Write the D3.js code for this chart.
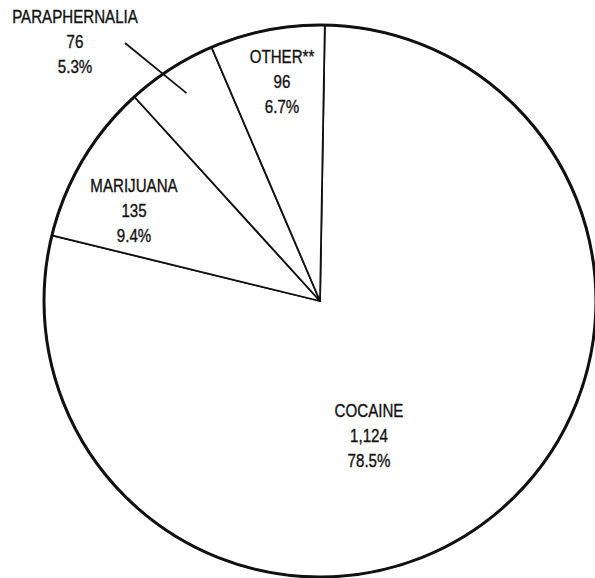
<!DOCTYPE html>
<html>
<head>
<meta charset="utf-8">
<script src="https://cdnjs.cloudflare.com/ajax/libs/d3/7.8.5/d3.min.js"></script>
<style>
  body { margin: 0; background: #fff; }
  text { font-family: "Liberation Sans", Arial, sans-serif; font-size: 18px; fill: #111; stroke: #111; stroke-width: 0.35px; }
</style>
</head>
<body>
<svg width="595" height="578"></svg>
<script>

let categories = ['COCAINE', 'MARIJUANA', 'PARAPHERNALIA', 'OTHER**'];
let counts = [1124, 135, 76, 96];
let countLabels = ['1,124', '135', '76', '96'];
let percentLabels = ['78.5%', '9.4%', '5.3%', '6.7%'];

let data = categories.map((c, i) => ({ name: c, value: counts[i], count: countLabels[i], pct: percentLabels[i] }));

let svg = d3.select('svg');
let cx = 320, cy = 301, radius = 276;

// where each label block sits, relative to the pie centre (first baseline)
let labelPos = {
    'COCAINE': [49, 116],
    'MARIJUANA': [-186, -109],
    'PARAPHERNALIA': [-245, -278],
    'OTHER**': [-38, -238]
};

let g = svg.append('g')
    .attr('transform', 'translate(' + cx + ',' + cy + ')');

let start = 1 * Math.PI / 180;
let pie = d3.pie()
    .sort(null)
    .value(d => d.value)
    .startAngle(start)
    .endAngle(start + 2 * Math.PI);

let arc = d3.arc().innerRadius(0).outerRadius(radius);
let arcs = pie(data);

g.selectAll('path.slice')
    .data(arcs)
    .enter().append('path')
    .attr('class', 'slice')
    .attr('d', arc)
    .style('fill', '#fff')
    .style('stroke', '#111')
    .style('stroke-width', 1.8)
    .style('stroke-linejoin', 'round');

g.append('circle')
    .attr('r', radius)
    .style('fill', 'none')
    .style('stroke', '#111')
    .style('stroke-width', 3);

// leader line for the thin paraphernalia slice
let leaderArc = d3.arc().innerRadius(247).outerRadius(247);
let para = arcs.find(a => a.data.name === 'PARAPHERNALIA');
let end = leaderArc.centroid(para);
g.append('line')
    .attr('x1', -195)
    .attr('y1', -258)
    .attr('x2', end[0])
    .attr('y2', end[1])
    .style('stroke', '#111')
    .style('stroke-width', 1.8);

// the original type is a condensed face: squeeze horizontally
let labels = g.selectAll('text.lbl')
    .data(arcs)
    .enter().append('text')
    .attr('class', 'lbl')
    .attr('text-anchor', 'middle')
    .attr('transform', d => 'translate(' + labelPos[d.data.name][0] + ',' + labelPos[d.data.name][1] + ')scale(0.84,1)');

labels.append('tspan').attr('x', 0).attr('y', 0).text(d => d.data.name);
labels.append('tspan').attr('x', 0).attr('y', 25.5).text(d => d.data.count);
labels.append('tspan').attr('x', 0).attr('y', 50.5).text(d => d.data.pct);

</script>
</body>
</html>
